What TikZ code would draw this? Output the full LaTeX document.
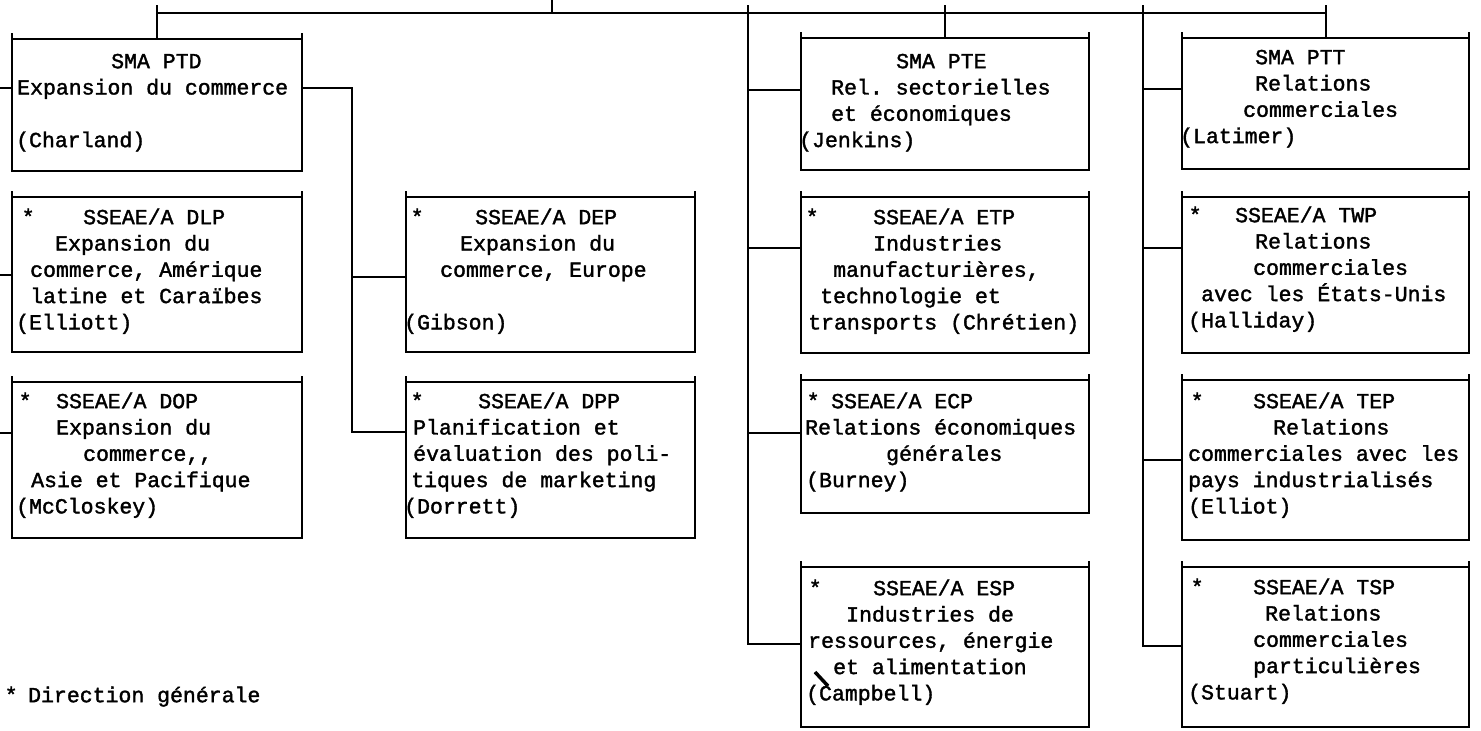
\documentclass[tikz,border=0pt]{standalone}
\usepackage{fontspec}
\setmonofont[FakeBold=1.6]{Liberation Mono}
\newcommand\tline[2]{\hspace*{#1pt}#2}
\newcommand\starline[3]{\hspace*{#1pt}\makebox[0pt]{*}\hspace*{\dimexpr #2pt-#1pt\relax}#3}
\newcommand\fl{\rule{0pt}{22pt}}
\tikzset{
  orgbox/.style={draw, line width=2pt, inner sep=0pt, outer sep=0pt},
  txt/.style={anchor=north west, inner sep=0pt, align=left,
    font=\ttfamily\fontsize{21.5}{26.3}\selectfont},
  wire/.style={line width=2pt}
}
\begin{document}
\begin{tikzpicture}[x=1pt,y=-1pt]
\useasboundingbox (0,0) rectangle (1481,731);
% ---------- boxes ----------
\node[orgbox, minimum width=290pt, minimum height=132pt] (ptd) at (157,105) {};
\node[orgbox, minimum width=290pt, minimum height=155pt] (dlp) at (157,274.5) {};
\node[orgbox, minimum width=290pt, minimum height=156pt] (dop) at (157,460) {};
\node[orgbox, minimum width=289pt, minimum height=155pt] (dep) at (550.5,274.5) {};
\node[orgbox, minimum width=289pt, minimum height=156pt] (dpp) at (550.5,460) {};
\node[orgbox, minimum width=288pt, minimum height=132pt] (pte) at (945,104) {};
\node[orgbox, minimum width=288pt, minimum height=156pt] (etp) at (945,275) {};
\node[orgbox, minimum width=288pt, minimum height=133pt] (ecp) at (945,446.5) {};
\node[orgbox, minimum width=288pt, minimum height=160pt] (esp) at (945,647) {};
\node[orgbox, minimum width=287pt, minimum height=131pt] (ptt) at (1325.5,103.5) {};
\node[orgbox, minimum width=287pt, minimum height=156pt] (twp) at (1325.5,275) {};
\node[orgbox, minimum width=287pt, minimum height=160pt] (tep) at (1325.5,460) {};
\node[orgbox, minimum width=287pt, minimum height=160pt] (tsp) at (1325.5,647) {};
\foreach \n in {ptd,dlp,dop,dep,dpp,pte,etp,ecp,esp,ptt,twp,tep,tsp}{
  \draw[wire] ([yshift=6pt]\n.north west) -- (\n.north west);
  \draw[wire] ([yshift=6pt]\n.north east) -- (\n.north east);
}
% ---------- texts ----------
\node[txt] (ptdtx) at (12,46) {\fl\tline{99}{SMA PTD}\\\tline{5}{Expansion du commerce}\\\mbox{}\\\tline{4}{(Charland)}};
\node[txt] (dlptx) at (12,202) {\fl\starline{16}{71}{SSEAE/A DLP}\\\tline{43}{Expansion du}\\\tline{18}{commerce, Amérique}\\\tline{18}{latine et Caraïbes}\\\tline{4}{(Elliott)}};
\node[txt] (doptx) at (12,386) {\fl\starline{13}{44}{SSEAE/A DOP}\\\tline{44}{Expansion du}\\\tline{71}{commerce,,}\\\tline{19}{Asie et Pacifique}\\\tline{4}{(McCloskey)}};
\node[txt] (deptx) at (406,202) {\fl\starline{11}{69}{SSEAE/A DEP}\\\tline{54}{Expansion du}\\\tline{34}{commerce, Europe}\\\mbox{}\\\tline{-2}{(Gibson)}};
\node[txt] (dpptx) at (406,386) {\fl\starline{11}{72}{SSEAE/A DPP}\\\tline{7}{Planification et}\\\tline{7}{évaluation des poli-}\\\tline{5}{tiques de marketing}\\\tline{-2}{(Dorrett)}};
\node[txt] (ptetx) at (801,46) {\fl\tline{95}{SMA PTE}\\\tline{30}{Rel. sectorielles}\\\tline{30}{et économiques}\\\tline{-2}{(Jenkins)}};
\node[txt] (etptx) at (801,202) {\fl\starline{11}{72}{SSEAE/A ETP}\\\tline{72}{Industries}\\\tline{32}{manufacturières,}\\\tline{19}{technologie et}\\\tline{7}{transports (Chrétien)}};
\node[txt] (ecptx) at (801,386) {\fl\starline{12}{30}{SSEAE/A ECP}\\\tline{4}{Relations économiques}\\\tline{85}{générales}\\\tline{5}{(Burney)}};
\node[txt] (esptx) at (801,573) {\fl\starline{14}{72}{SSEAE/A ESP}\\\tline{45}{Industries de}\\\tline{7}{ressources, énergie}\\\tline{32}{et alimentation}\\\tline{5}{(Campbell)}};
\node[txt] (ptttx) at (1182,42) {\fl\tline{73}{SMA PTT}\\\tline{73}{Relations}\\\tline{61}{commerciales}\\\tline{-2}{(Latimer)}};
\node[txt] (twptx) at (1182,200) {\fl\starline{13}{53}{SSEAE/A TWP}\\\tline{73}{Relations}\\\tline{71}{commerciales}\\\tline{19}{avec les États-Unis}\\\tline{6}{(Halliday)}};
\node[txt] (teptx) at (1182,386) {\fl\starline{15}{71}{SSEAE/A TEP}\\\tline{91}{Relations}\\\tline{6}{commerciales avec les}\\\tline{6}{pays industrialisés}\\\tline{6}{(Elliot)}};
\node[txt] (tsptx) at (1182,572) {\fl\starline{15}{71}{SSEAE/A TSP}\\\tline{83}{Relations}\\\tline{71}{commerciales}\\\tline{71}{particulières}\\\tline{6}{(Stuart)}};
\node[txt] (legend) at (0,680) {\fl\starline{11}{28}{Direction générale}};
% stray mark in ESP box
\draw[line width=3.5pt] (815,672) -- (828,686);
% ---------- connectors ----------
\coordinate (tL) at (157,13);
\coordinate (tR) at (1325,13);
\coordinate (tick) at (552,0);
\draw[wire] (tL) -- (tR);
\draw[wire] (tick) -- (tick |- tL);
\draw[wire] (ptd.north |- 0,5) -- (ptd.north);
\draw[wire] (pte.north |- 0,5) -- (pte.north);
\draw[wire] (ptt.north |- 0,5) -- (ptt.north);
% column 1 stubs
\coordinate (c1a) at (0,88);
\coordinate (c1b) at (0,275);
\coordinate (c1c) at (0,433);
\draw[wire] (c1a) -- (ptd.west |- c1a);
\draw[wire] (c1b) -- (dlp.west |- c1b);
\draw[wire] (c1c) -- (dop.west |- c1c);
% column 2 bus
\coordinate (c2a) at (352,88);
\coordinate (c2b) at (352,277);
\coordinate (c2c) at (352,432);
\draw[wire] (ptd.east |- c2a) -- (c2a) -- (c2c) -- (dpp.west |- c2c);
\draw[wire] (c2b) -- (dep.west |- c2b);
% column 3 bus
\coordinate (c3t) at (748,5);
\coordinate (c3a) at (748,90);
\coordinate (c3b) at (748,248);
\coordinate (c3c) at (748,433);
\coordinate (c3d) at (748,644);
\draw[wire] (c3t) -- (c3d) -- (esp.west |- c3d);
\draw[wire] (c3a) -- (pte.west |- c3a);
\draw[wire] (c3b) -- (etp.west |- c3b);
\draw[wire] (c3c) -- (ecp.west |- c3c);
% column 4 bus
\coordinate (c4t) at (1143,5);
\coordinate (c4a) at (1143,89);
\coordinate (c4b) at (1143,248);
\coordinate (c4c) at (1143,460);
\coordinate (c4d) at (1143,646);
\draw[wire] (c4t) -- (c4d) -- (tsp.west |- c4d);
\draw[wire] (c4a) -- (ptt.west |- c4a);
\draw[wire] (c4b) -- (twp.west |- c4b);
\draw[wire] (c4c) -- (tep.west |- c4c);
\end{tikzpicture}
\end{document}
